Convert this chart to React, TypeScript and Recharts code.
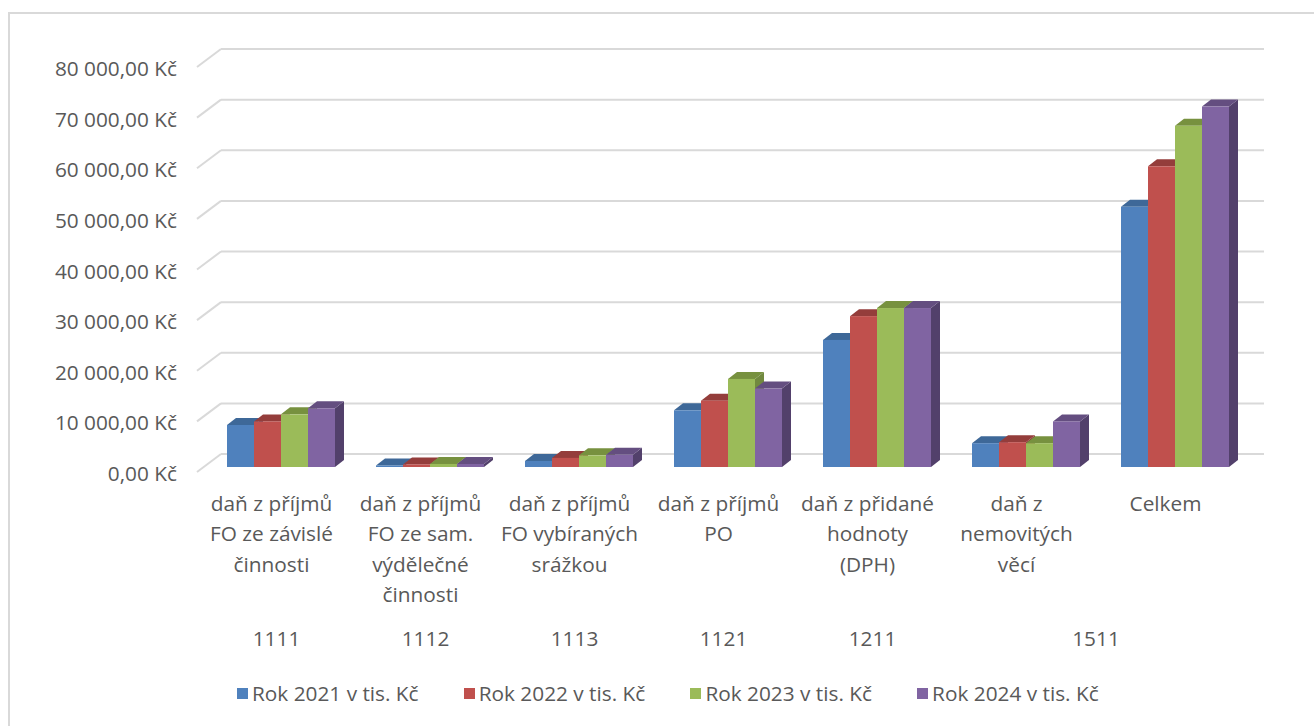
import React from "react";
import { BarChart, Bar, XAxis, YAxis, CartesianGrid } from "recharts";

// categories (line breaks follow the wrapped axis labels)
const categories = [
  "daň z příjmů\nFO ze závislé\nčinnosti",
  "daň z příjmů\nFO ze sam.\nvýdělečné\nčinnosti",
  "daň z příjmů\nFO vybíraných\nsrážkou",
  "daň z příjmů\nPO",
  "daň z přidané\nhodnoty\n(DPH)",
  "daň z\nnemovitých\nvěcí",
  "Celkem",
];
// second level of the category axis
const codes = ["1111", "1112", "1113", "1121", "1211", "1511", "1511"];

const rok2021 = [8300, 300, 1200, 11200, 25100, 4700, 51400];
const rok2022 = [9000, 500, 1800, 13100, 29800, 4900, 59400];
const rok2023 = [10400, 600, 2300, 17400, 31400, 4700, 67400];
const rok2024 = [11600, 600, 2400, 15500, 31400, 9000, 71200];

const yTicks = [0, 10000, 20000, 30000, 40000, 50000, 60000, 70000, 80000];

const series = [
  { key: "r2021", name: "Rok 2021 v tis. Kč", values: rok2021, front: "#4f81bd", top: "#3e6898", side: "#385d8a" },
  { key: "r2022", name: "Rok 2022 v tis. Kč", values: rok2022, front: "#c0504d", top: "#943d3b", side: "#8c3836" },
  { key: "r2023", name: "Rok 2023 v tis. Kč", values: rok2023, front: "#9bbb59", top: "#77913f", side: "#71893f" },
  { key: "r2024", name: "Rok 2024 v tis. Kč", values: rok2024, front: "#8064a2", top: "#644e80", side: "#52406b" },
];

const data = categories.map((name, i) => {
  const row: Record<string, string | number> = { name, code: codes[i] };
  series.forEach((s) => (row[s.key] = s.values[i]));
  return row;
});

const W = 1314;
const H = 726;
const PLOT_LEFT = 206;
const PLOT_RIGHT = 1249;
const BAND = (PLOT_RIGHT - PLOT_LEFT) / categories.length;
const DEPTH_X = 9;
const DEPTH_Y = -7;
const FONT = "'Open Sans', Lato, sans-serif";
const FS = 20.8;
const TEXT = "#595959";
const GRID = "#d9d9d9";

function fmtKc(v: number): string {
  const s = Math.round(v).toString().replace(/\B(?=(\d{3})+(?!\d))/g, " ");
  return `${s},00 Kč`;
}

// 3D looking column: front face, top face and right side
function Box3D(props: any) {
  const { x, y, width, height, front, top, side } = props;
  if (width == null || height == null) return null;
  const dx = DEPTH_X;
  const dy = DEPTH_Y;
  return (
    <g>
      <polygon
        points={`${x + width},${y} ${x + width + dx},${y + dy} ${x + width + dx},${y + height + dy} ${x + width},${y + height}`}
        fill={side}
      />
      <polygon
        points={`${x},${y} ${x + dx},${y + dy} ${x + width + dx},${y + dy} ${x + width},${y}`}
        fill={top}
      />
      <rect x={x} y={y} width={width} height={height} fill={front} />
    </g>
  );
}

// back wall gridline + diagonal side wall line
function WallLine(p: any) {
  const y = p.y1;
  return (
    <g key={p.key}>
      <line x1={197} y1={y + 5} x2={221} y2={y - 13} stroke={GRID} strokeWidth={2} />
      <line x1={221} y1={y - 13} x2={1264} y2={y - 13} stroke={GRID} strokeWidth={2} />
    </g>
  );
}

function ValueTick(p: any) {
  const { y, payload } = p;
  return (
    <text x={177} y={y + 6} textAnchor="end" dominantBaseline="central" fill={TEXT} fontSize={FS} fontFamily={FONT}>
      {fmtKc(payload.value)}
    </text>
  );
}

function CategoryTick(p: any) {
  const { x, payload, index } = p;
  const lines = String(payload.value).split("\n");
  const code = codes[index];
  const first = index === 0 || codes[index - 1] !== code;
  let span = 0;
  while (index + span + 1 < codes.length && codes[index + span + 1] === code) span++;
  return (
    <g>
      {lines.map((l, i) => (
        <text
          key={i}
          x={x - 9}
          y={503 + i * 30.3}
          textAnchor="middle"
          dominantBaseline="central"
          fill={TEXT}
          fontSize={FS}
          fontFamily={FONT}
        >
          {l}
        </text>
      ))}
      {first && (
        <text
          x={x - 4 + (span * BAND) / 2}
          y={638}
          textAnchor="middle"
          dominantBaseline="central"
          fill={TEXT}
          fontSize={FS}
          fontFamily={FONT}
        >
          {code}
        </text>
      )}
    </g>
  );
}

export default function App() {
  return (
    <div style={{ position: "absolute", left: 0, top: 0, width: W, height: H, background: "#fff", overflow: "hidden" }}>
      <div
        style={{
          position: "absolute",
          left: 8,
          top: 12,
          width: W,
          height: H,
          borderLeft: `2px solid ${GRID}`,
          borderTop: `2px solid ${GRID}`,
        }}
      />
      <div style={{ position: "absolute", left: 0, top: 0 }}>
        <BarChart
          width={W}
          height={H}
          data={data}
          margin={{ top: 62, right: W - PLOT_RIGHT, bottom: H - 467 - 200, left: PLOT_LEFT - 200 }}
          barGap={0}
        >
          <CartesianGrid vertical={false} horizontal={(p: any) => <WallLine {...p} />} />
          <XAxis
            dataKey="name"
            interval={0}
            axisLine={false}
            tickLine={false}
            height={200}
            tick={(p: any) => <CategoryTick {...p} />}
          />
          <YAxis
            domain={[0, 80000]}
            ticks={yTicks}
            axisLine={false}
            tickLine={false}
            width={200}
            tick={(p: any) => <ValueTick {...p} />}
          />
          {series.map((s) => (
            <Bar
              key={s.key}
              dataKey={s.key}
              name={s.name}
              barSize={27}
              isAnimationActive={false}
              shape={(p: any) => <Box3D {...p} front={s.front} top={s.top} side={s.side} />}
            />
          ))}
        </BarChart>
      </div>
      {series.map((s, i) => (
        <div
          key={s.key}
          style={{
            position: "absolute",
            left: 237 + i * 226.7,
            top: 681,
            display: "flex",
            alignItems: "center",
            fontFamily: FONT,
            fontSize: FS,
            color: TEXT,
            whiteSpace: "nowrap",
            height: 24,
          }}
        >
          <span style={{ display: "inline-block", width: 11, height: 11, background: s.front, marginRight: 4 }} />
          {s.name}
        </div>
      ))}
    </div>
  );
}
